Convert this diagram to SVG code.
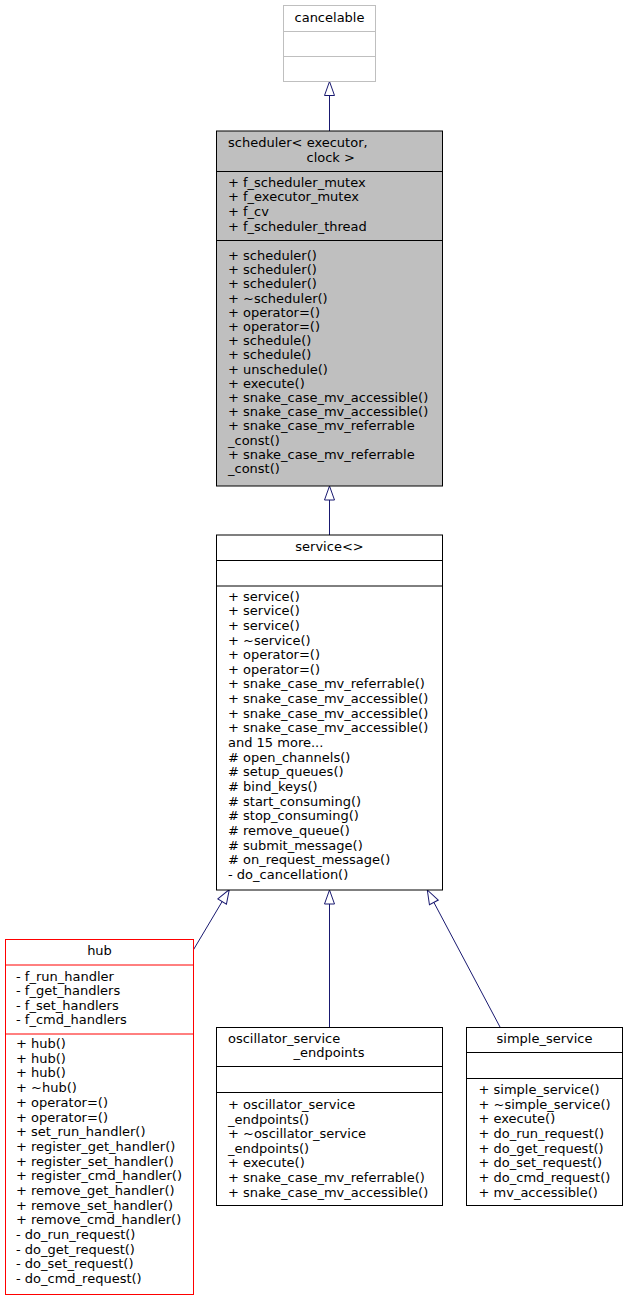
<svg xmlns="http://www.w3.org/2000/svg" width="628" height="1300" viewBox="0 0 628 1300">
<style>
.t{font-family:"DejaVu Sans","Noto Sans",sans-serif;font-size:13px;fill:#000}
.c{text-anchor:middle}
.box{fill:#fff;stroke:#000;stroke-width:1}
.gray{fill:#fff;stroke:#bfbfbf;stroke-width:1}
.sel{fill:#bfbfbf;stroke:#000;stroke-width:1}
.red{fill:#fff;stroke:#ff0000;stroke-width:1}
.edge{fill:none;stroke:#191970;stroke-width:1}
</style>
<defs>
<marker id="inh" viewBox="-1 -6 16 12" refX="14" refY="0" markerWidth="16" markerHeight="12" markerUnits="userSpaceOnUse" orient="auto">
<path d="M0,-5 L14,0 L0,5 Z" fill="#fff" stroke="#191970" stroke-width="1"/>
</marker>
</defs>
<rect width="628" height="1300" fill="#fff"/>
<g id="connectors">
<path class="edge" d="M329.5,131 L329.5,81.5" marker-end="url(#inh)"/>
<path class="edge" d="M329.5,535 L329.5,486" marker-end="url(#inh)"/>
<path class="edge" d="M193.3,950 L229.3,889.5" marker-end="url(#inh)"/>
<path class="edge" d="M329.5,1027 L329.5,890" marker-end="url(#inh)"/>
<path class="edge" d="M500,1027 L427.3,890" marker-end="url(#inh)"/>
</g>
<g id="cancelable">
<rect class="gray" x="283.5" y="5.5" width="92" height="76"/>
<line class="gray" x1="283.5" y1="31.5" x2="375.5" y2="31.5"/>
<line class="gray" x1="283.5" y1="56.5" x2="375.5" y2="56.5"/>
<text class="t c" x="329.5" y="21.7">cancelable</text>
</g>
<g id="scheduler">
<rect class="sel" x="216.5" y="131" width="226" height="355"/>
<line class="sel" x1="216.5" y1="171.5" x2="442.5" y2="171.5"/>
<line class="sel" x1="216.5" y1="240.5" x2="442.5" y2="240.5"/>
<text class="t" x="228" y="146.7">scheduler&lt; executor,</text>
<text class="t" x="306.5" y="161.7">clock &gt;</text>
<text class="t" x="228" y="186.7">+ f_scheduler_mutex</text>
<text class="t" x="228" y="201.3">+ f_executor_mutex</text>
<text class="t" x="228" y="215.9">+ f_cv</text>
<text class="t" x="228" y="230.5">+ f_scheduler_thread</text>
<text class="t" x="228" y="260">+ scheduler()</text>
<text class="t" x="228" y="274.2">+ scheduler()</text>
<text class="t" x="228" y="288.4">+ scheduler()</text>
<text class="t" x="228" y="302.6">+ ~scheduler()</text>
<text class="t" x="228" y="316.8">+ operator=()</text>
<text class="t" x="228" y="331">+ operator=()</text>
<text class="t" x="228" y="345.2">+ schedule()</text>
<text class="t" x="228" y="359.4">+ schedule()</text>
<text class="t" x="228" y="373.6">+ unschedule()</text>
<text class="t" x="228" y="387.8">+ execute()</text>
<text class="t" x="228" y="402">+ snake_case_mv_accessible()</text>
<text class="t" x="228" y="416.2">+ snake_case_mv_accessible()</text>
<text class="t" x="228" y="430.4">+ snake_case_mv_referrable</text>
<text class="t" x="228" y="444.6">_const()</text>
<text class="t" x="228" y="458.8">+ snake_case_mv_referrable</text>
<text class="t" x="228" y="473">_const()</text>
</g>
<g id="service">
<rect class="box" x="216.5" y="535" width="226" height="355"/>
<line class="box" x1="216.5" y1="560.5" x2="442.5" y2="560.5"/>
<line class="box" x1="216.5" y1="586" x2="442.5" y2="586"/>
<text class="t c" x="329.5" y="551">service&lt;&gt;</text>
<text class="t" x="228" y="600.5">+ service()</text>
<text class="t" x="228" y="615.2">+ service()</text>
<text class="t" x="228" y="629.8">+ service()</text>
<text class="t" x="228" y="644.5">+ ~service()</text>
<text class="t" x="228" y="659.1">+ operator=()</text>
<text class="t" x="228" y="673.8">+ operator=()</text>
<text class="t" x="228" y="688.4">+ snake_case_mv_referrable()</text>
<text class="t" x="228" y="703.1">+ snake_case_mv_accessible()</text>
<text class="t" x="228" y="717.7">+ snake_case_mv_accessible()</text>
<text class="t" x="228" y="732.4">+ snake_case_mv_accessible()</text>
<text class="t" x="228" y="747">and 15 more...</text>
<text class="t" x="228" y="761.7"># open_channels()</text>
<text class="t" x="228" y="776.3"># setup_queues()</text>
<text class="t" x="228" y="791"># bind_keys()</text>
<text class="t" x="228" y="805.6"># start_consuming()</text>
<text class="t" x="228" y="820.3"># stop_consuming()</text>
<text class="t" x="228" y="834.9"># remove_queue()</text>
<text class="t" x="228" y="849.6"># submit_message()</text>
<text class="t" x="228" y="864.2"># on_request_message()</text>
<text class="t" x="228" y="878.9">- do_cancellation()</text>
</g>
<g id="hub">
<rect class="red" x="5.5" y="939.5" width="188" height="355"/>
<line class="red" x1="5.5" y1="965" x2="193.5" y2="965"/>
<line class="red" x1="5.5" y1="1034" x2="193.5" y2="1034"/>
<text class="t c" x="99.5" y="955">hub</text>
<text class="t" x="16" y="980.5">- f_run_handler</text>
<text class="t" x="16" y="995">- f_get_handlers</text>
<text class="t" x="16" y="1009.6">- f_set_handlers</text>
<text class="t" x="16" y="1024.1">- f_cmd_handlers</text>
<text class="t" x="16" y="1048">+ hub()</text>
<text class="t" x="16" y="1062.7">+ hub()</text>
<text class="t" x="16" y="1077.4">+ hub()</text>
<text class="t" x="16" y="1092.1">+ ~hub()</text>
<text class="t" x="16" y="1106.8">+ operator=()</text>
<text class="t" x="16" y="1121.5">+ operator=()</text>
<text class="t" x="16" y="1136.1">+ set_run_handler()</text>
<text class="t" x="16" y="1150.8">+ register_get_handler()</text>
<text class="t" x="16" y="1165.5">+ register_set_handler()</text>
<text class="t" x="16" y="1180.2">+ register_cmd_handler()</text>
<text class="t" x="16" y="1194.9">+ remove_get_handler()</text>
<text class="t" x="16" y="1209.6">+ remove_set_handler()</text>
<text class="t" x="16" y="1224.3">+ remove_cmd_handler()</text>
<text class="t" x="16" y="1239">- do_run_request()</text>
<text class="t" x="16" y="1253.7">- do_get_request()</text>
<text class="t" x="16" y="1268.3">- do_set_request()</text>
<text class="t" x="16" y="1283">- do_cmd_request()</text>
</g>
<g id="oscillator_service_endpoints">
<rect class="box" x="216.5" y="1027.5" width="226" height="178"/>
<line class="box" x1="216.5" y1="1066.5" x2="442.5" y2="1066.5"/>
<line class="box" x1="216.5" y1="1092.5" x2="442.5" y2="1092.5"/>
<text class="t" x="228" y="1042.7">oscillator_service</text>
<text class="t" x="293.5" y="1057.3">_endpoints</text>
<text class="t" x="228" y="1109">+ oscillator_service</text>
<text class="t" x="228" y="1123.6">_endpoints()</text>
<text class="t" x="228" y="1138.2">+ ~oscillator_service</text>
<text class="t" x="228" y="1152.8">_endpoints()</text>
<text class="t" x="228" y="1167.4">+ execute()</text>
<text class="t" x="228" y="1182">+ snake_case_mv_referrable()</text>
<text class="t" x="228" y="1196.6">+ snake_case_mv_accessible()</text>
</g>
<g id="simple_service">
<rect class="box" x="466.5" y="1027.5" width="156" height="178"/>
<line class="box" x1="466.5" y1="1052.5" x2="622.5" y2="1052.5"/>
<line class="box" x1="466.5" y1="1078.5" x2="622.5" y2="1078.5"/>
<text class="t c" x="544.5" y="1042.7">simple_service</text>
<text class="t" x="478.5" y="1094">+ simple_service()</text>
<text class="t" x="478.5" y="1108.6">+ ~simple_service()</text>
<text class="t" x="478.5" y="1123.3">+ execute()</text>
<text class="t" x="478.5" y="1137.9">+ do_run_request()</text>
<text class="t" x="478.5" y="1152.6">+ do_get_request()</text>
<text class="t" x="478.5" y="1167.2">+ do_set_request()</text>
<text class="t" x="478.5" y="1181.8">+ do_cmd_request()</text>
<text class="t" x="478.5" y="1196.5">+ mv_accessible()</text>
</g>
</svg>
